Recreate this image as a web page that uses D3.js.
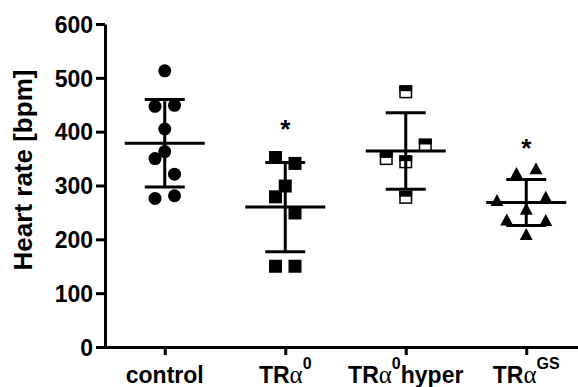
<!DOCTYPE html>
<html>
<head>
<meta charset="utf-8">
<script src="https://cdn.jsdelivr.net/npm/d3@7"></script>
<style>
  body { margin: 0; background: #fff; }
  text { font-family: "Liberation Sans", Arial, sans-serif; font-weight: bold; fill: #000; }
</style>
</head>
<body>
<div id="chart"></div>
<script>
// groups on the x axis
const groups = ['control', 'TRa0', 'TRa0hyper', 'TRaGS'];
// label pieces: [text, kind] kind = '' normal, 'g' greek, 's' superscript
const groupLabels = [
  [['control', '']],
  [['TR', ''], ['\u03B1', 'g'], ['0', 's']],
  [['TR', ''], ['\u03B1', 'g'], ['0', 's'], ['hyper', '']],
  [['TR', ''], ['\u03B1', 'g'], ['GS', 's']]
];

// heart rate values (bpm) per animal
const control = [513, 449, 447, 405, 363, 350, 321, 281, 276];
const tra0 = [352, 341, 299, 279, 249, 150, 150];
const tra0hyper = [474, 375, 350, 344, 278];
const trags = [332, 323, 279, 273, 257, 237, 236, 210];

// side-by-side spread of overlapping symbols, in symbol widths
const controlSpread = [0, 0.5, -0.5, 0, 0, -0.5, 0.5, 0.5, -0.5];
const tra0Spread = [-0.5, 0.5, 0, -0.5, 0.5, -0.5, 0.5];
const tra0hyperSpread = [0, 1, -1, 0, 0];
const tragsSpread = [0.5, -0.5, 1, -1.5, 0, -1, 1, 0];

// significance markers (value where the asterisk sits), null = none
const stars = [null, 418, null, 381];

const yTicks = [0, 100, 200, 300, 400, 500, 600];
const yLabel = 'Heart rate [bpm]';

const series = [
  {values: control, spread: controlSpread, shape: 'circle'},
  {values: tra0, spread: tra0Spread, shape: 'square'},
  {values: tra0hyper, spread: tra0hyperSpread, shape: 'halfsquare'},
  {values: trags, spread: tragsSpread, shape: 'triangle'}
];

const width = 578, height = 387;
const svg = d3.select('#chart').append('svg')
  .attr('width', width)
  .attr('height', height);

const y = d3.scaleLinear().domain([0, 600]).range([347, 24]);
const x = d3.scalePoint().domain(groups).range([104.5, 586.5]).padding(0.5);
const dodge = d3.scaleLinear().domain([0, 1]).range([0, 19.5]);

// axes
const yAxis = svg.append('g')
  .attr('transform', 'translate(105,0)')
  .call(d3.axisLeft(y).tickValues(yTicks).tickSize(9).tickSizeOuter(0).tickPadding(3));
yAxis.selectAll('text').style('font-size', '23px').attr('dy', '0.36em');

svg.append('g')
  .attr('transform', 'translate(0,347)')
  .call(d3.axisBottom(x).tickSize(8).tickSizeOuter(0).tickFormat(''));

svg.selectAll('.domain, .tick line')
  .attr('stroke', '#000')
  .attr('stroke-width', 3);

// y label
svg.append('text')
  .attr('transform', 'translate(32,170) rotate(-90)')
  .attr('text-anchor', 'middle')
  .style('font-size', '26px')
  .text(yLabel);

// x labels
const supShift = 14;
groupLabels.forEach((parts, i) => {
  const t = svg.append('text')
    .attr('x', x(groups[i]))
    .attr('y', 383)
    .attr('text-anchor', 'middle')
    .style('font-size', '23px');
  let raised = false;
  parts.forEach(([s, kind]) => {
    const ts = t.append('tspan').text(s);
    if (kind === 's' && !raised) { ts.attr('dy', -supShift); raised = true; }
    else if (kind !== 's' && raised) { ts.attr('dy', supShift); raised = false; }
    if (kind === 'g') {
      ts.style('font-family', '"Liberation Serif", serif').style('font-weight', 'normal').style('font-size', '25px');
    } else if (kind === 's') {
      ts.style('font-size', '16px');
    }
  });
});

// data points
const sz = 13;
series.forEach((s, i) => {
  const g = svg.append('g');
  const cx0 = x(groups[i]);
  s.values.forEach((v, j) => {
    const cx = cx0 + dodge(s.spread[j]);
    const cy = y(v);
    if (s.shape === 'circle') {
      g.append('circle').attr('cx', cx).attr('cy', cy).attr('r', sz / 2).attr('fill', '#000');
    } else if (s.shape === 'square') {
      g.append('rect').attr('x', cx - sz / 2).attr('y', cy - sz / 2)
        .attr('width', sz).attr('height', sz).attr('fill', '#000');
    } else if (s.shape === 'halfsquare') {
      g.append('rect').attr('x', cx - sz / 2 + 0.75).attr('y', cy - sz / 2 + 0.75)
        .attr('width', sz - 1.5).attr('height', sz - 1.5)
        .attr('fill', '#fff').attr('stroke', '#000').attr('stroke-width', 1.5);
      g.append('rect').attr('x', cx - sz / 2).attr('y', cy - sz / 2)
        .attr('width', sz).attr('height', sz * 0.45).attr('fill', '#000');
    } else {
      const h = 12;
      g.append('path')
        .attr('d', `M${cx},${cy - h / 2}L${cx + sz / 2},${cy + h / 2}L${cx - sz / 2},${cy + h / 2}Z`)
        .attr('fill', '#000');
    }
  });
});

// mean and SD bars on top of the points
series.forEach((s, i) => {
  const cx = x(groups[i]);
  const m = d3.mean(s.values);
  const sd = d3.deviation(s.values);
  const g = svg.append('g').attr('stroke', '#000').attr('stroke-width', 3);
  g.append('line').attr('x1', cx).attr('x2', cx).attr('y1', y(m + sd)).attr('y2', y(m - sd));
  g.append('line').attr('x1', cx - 40).attr('x2', cx + 40).attr('y1', y(m)).attr('y2', y(m));
  [m + sd, m - sd].forEach(v => {
    g.append('line').attr('x1', cx - 20).attr('x2', cx + 20).attr('y1', y(v)).attr('y2', y(v));
  });
});

// asterisks
stars.forEach((v, i) => {
  if (v == null) return;
  svg.append('text')
    .attr('x', x(groups[i]))
    .attr('y', y(v))
    .attr('dy', '0.6em')
    .attr('text-anchor', 'middle')
    .style('font-size', '26px')
    .text('*');
});
</script>
</body>
</html>
